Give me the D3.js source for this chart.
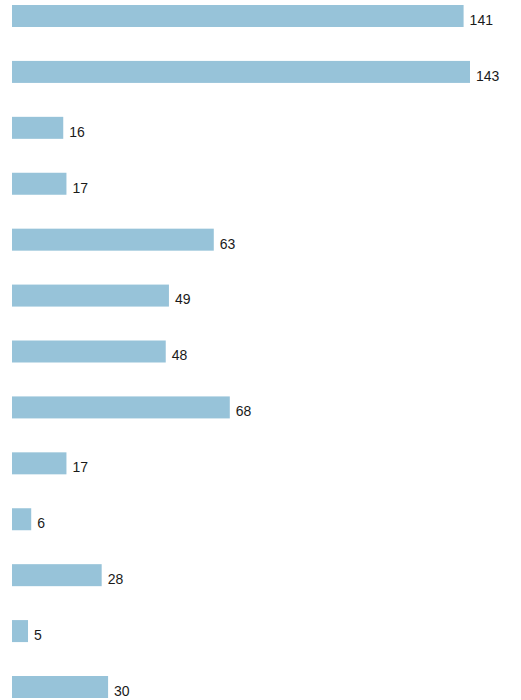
<!DOCTYPE html>
<html>
<head>
<meta charset="utf-8">
<script src="https://cdn.jsdelivr.net/npm/d3@7"></script>
<style>
  body { margin: 0; background: #fff; }
  text { font-family: "Liberation Sans", Arial, sans-serif; }
</style>
</head>
<body>
<div id="chart"></div>
<script>
const width = 521;
const height = 700;

// valores de las barras, de arriba a abajo
const categories = ['a', 'b', 'c', 'd', 'e', 'f', 'g', 'h', 'i', 'j', 'k', 'l', 'm'];
const values = [141, 143, 16, 17, 63, 49, 48, 68, 17, 6, 28, 5, 30];

const barHeight = 22;

const svg = d3.select('#chart')
  .append('svg')
  .attr('width', width)
  .attr('height', height);

const xScale = d3.scaleLinear()
  .domain([0, 143])
  .range([12, 470]);

const yScale = d3.scalePoint()
  .domain(categories)
  .range([16, 687]);

const data = categories.map((c, i) => ({ cat: c, value: values[i] }));

svg.selectAll('.bar')
  .data(data)
  .enter()
  .append('rect')
  .attr('class', 'bar')
  .attr('x', xScale(0))
  .attr('y', d => yScale(d.cat) - barHeight / 2)
  .attr('width', d => xScale(d.value) - xScale(0))
  .attr('height', barHeight)
  .attr('fill', '#97c3d9');

svg.selectAll('.labelbar')
  .data(data)
  .enter()
  .append('text')
  .attr('class', 'labelbar')
  .attr('x', d => xScale(d.value) + 6)
  .attr('y', d => yScale(d.cat) + 4)
  .attr('dy', '0.35em')
  .attr('font-size', 14)
  .attr('fill', '#1a1a1a')
  .text(d => d.value);
</script>
</body>
</html>
